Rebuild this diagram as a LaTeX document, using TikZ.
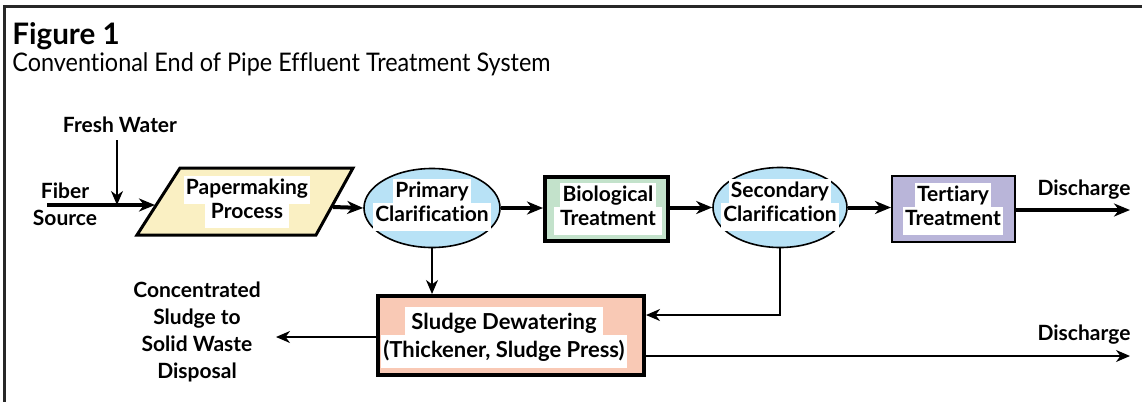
\documentclass[tikz,border=0pt]{standalone}
\usepackage{fontspec}
\setmainfont{Lato}[Ligatures=NoCommon]
\usetikzlibrary{arrows.meta,shapes.geometric}
\definecolor{cyel}{RGB}{250,240,195}
\definecolor{cblue}{RGB}{184,226,246}
\definecolor{cgreen}{RGB}{195,226,203}
\definecolor{clav}{RGB}{185,181,217}
\definecolor{csal}{RGB}{249,201,181}
\definecolor{cframe}{RGB}{40,40,40}
\newcommand\wb[1]{{\setlength\fboxsep{1.2pt}\colorbox{white}{\strut #1}}}
\tikzset{
  lbl/.style={font=\bfseries\fontsize{10.5}{13.5}\selectfont, align=center, inner sep=0pt,
    execute at begin node={\lineskiplimit=-100pt\lineskip=0pt}},
  intext/.style={font=\bfseries\fontsize{10.5}{12}\selectfont, align=center, inner sep=0pt,
    execute at begin node={\lineskiplimit=-100pt\lineskip=0pt}},
  thickarrow/.style={line width=2pt, -{Stealth[length=8pt,width=6.5pt,inset=2.5pt]}},
  thinarrow/.style={line width=0.8pt, -{Stealth[length=7pt,width=6pt,inset=2.2pt]}},
  ell/.style={ellipse, draw, line width=0.8pt, fill=cblue, inner sep=0pt},
  boxnode/.style={rectangle, draw, inner sep=0pt},
}
\begin{document}
\begin{tikzpicture}[x=0.5pt,y=-0.5pt]
\useasboundingbox (0,0) rectangle (1142,402);
% frame
\draw[cframe, line width=1.1pt] (4.5,402) -- (4.5,6.5) -- (1142,6.5);
% title
\node[anchor=base west, inner sep=0pt, font=\bfseries\fontsize{14.8}{16}\selectfont] (fig) at (12,44) {Figure 1};
\node[anchor=base west, inner sep=0pt, font=\fontsize{12.8}{16}\selectfont] (title) at (12,71.5) {\scalebox{0.915}[1]{Conventional End of Pipe Effluent Treatment System}};

% labels
\node[lbl] (fresh) at (120,125) {Fresh Water};
\node[lbl] (fiber) at (65,204) {Fiber\\Source};
\node[lbl] (conc) at (197,332) {Concentrated\\Sludge to\\Solid Waste\\Disposal};
\node[lbl] (dis1) at (1084,190) {Discharge};
\node[lbl] (dis2) at (1084,335) {Discharge};

% papermaking parallelogram
\coordinate (p1) at (137,235);
\coordinate (p2) at (316,235);
\coordinate (p3) at (353,168);
\coordinate (p4) at (180,168);
\draw[line width=1.5pt, fill=cyel, line join=miter] (p1) -- (p2) -- (p3) -- (p4) -- cycle;
\node[intext] (paper) at (247,202) {\wb{Papermaking}\\\wb{\,Process\,}};
\coordinate (pin) at (155,205);
\coordinate (pout) at (333,207);

% ellipses
\node[ell, minimum width=68pt, minimum height=39.5pt] (prim) at (432,208) {};
\node[intext] (primt) at (432,205) {\wb{Primary}\\\wb{Clarification}};
\node[ell, minimum width=67pt, minimum height=40pt] (sec) at (780,207.5) {};
\node[intext] (sect) at (780,205) {\wb{Secondary}\\\wb{Clarification}};

% boxes
\node[boxnode, line width=2pt, fill=cgreen, minimum width=61.5pt, minimum height=32pt] (bio) at (606.5,209) {};
\node[intext] (biot) at (608,209) {\wb{Biological}\\\wb{\,Treatment\,}};
\node[boxnode, line width=1pt, fill=clav, minimum width=61.5pt, minimum height=33pt] (ter) at (953.5,209) {};
\node[intext] (tert) at (953,209) {\wb{Tertiary}\\\wb{Treatment}};
\node[boxnode, line width=2pt, fill=csal, minimum width=133pt, minimum height=39.5pt] (sludge) at (511,335.5) {};
\node[intext, font=\bfseries\fontsize{11}{14}\selectfont] (sludget) at (504,337.5) {\wb{\,Sludge Dewatering\,}\\\wb{(Thickener, Sludge Press)}};

% connectors
\coordinate (fs) at (47,205);
\coordinate (fj) at (117,205);
\coordinate (fwtop) at (117,140);
\coordinate (d1) at (1130,210);
\coordinate (d2) at (1130,356);
\coordinate (cin) at (276,337);
\coordinate (sin) at (646,315);
\coordinate (sout) at (646,356);

\draw[thickarrow] (fs) -- (pin);
\draw[thinarrow] (fwtop) -- (fj);
\draw[thickarrow] (pout) -- (prim.west);
\draw[thickarrow] (prim.east) -- (prim.east -| bio.west);
\draw[thickarrow] (bio.east |- sec.west) -- (sec.west);
\draw[thickarrow] (sec.east) -- (sec.east -| ter.west);
\draw[thickarrow] (ter.east |- d1) -- (d1);
\draw[thinarrow] (prim.south) -- (prim.south |- sludge.north);
\draw[thinarrow] (sec.south) |- (sin);
\draw[thinarrow] (sludge.west |- cin) -- (cin);
\draw[thinarrow] (sout) -- (d2);
\end{tikzpicture}
\end{document}
